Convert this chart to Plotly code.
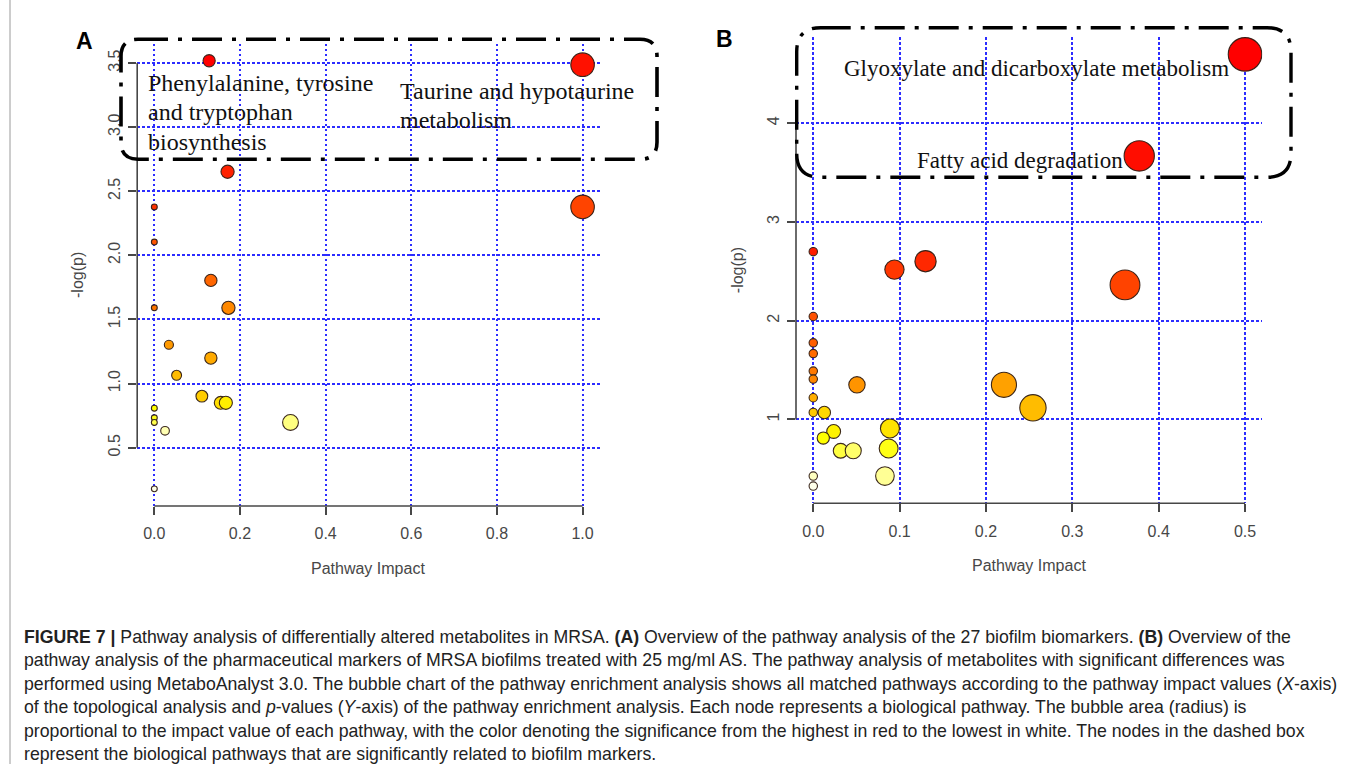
import math
import colorsys
import plotly.graph_objects as go

W, H = 1355, 764

# ---------------- data ----------------
# Panel A: pathway impact (x) and -log(p) (y)
a_impact = [0.128, 1.0, 0.171, 0.0, 1.0, 0.0, 0.132, 0.0, 0.173, 0.034, 0.132,
            0.052, 0.111, 0.155, 0.167, 0.0, 0.0, 0.0, 0.318, 0.025, 0.0]
a_logp = [3.518, 3.487, 2.652, 2.378, 2.378, 2.104, 1.805, 1.591, 1.591, 1.303, 1.199,
          1.065, 0.902, 0.850, 0.850, 0.808, 0.733, 0.697, 0.697, 0.632, 0.179]
a_xticks = [0.0, 0.2, 0.4, 0.6, 0.8, 1.0]
a_yticks = [0.5, 1.0, 1.5, 2.0, 2.5, 3.0, 3.5]
a_labels = [["Phenylalanine, tyrosine", "and tryptophan", "biosynthesis"],
            ["Taurine and hypotaurine", "metabolism"]]

# Panel B
b_impact = [0.5, 0.3775, 0.0, 0.130, 0.094, 0.361, 0.0, 0.0, 0.0, 0.0, 0.0, 0.0506, 0.2208,
            0.0, 0.2544, 0.0, 0.0128, 0.0888, 0.0236, 0.0116, 0.0873, 0.0317, 0.0463, 0.083,
            0.0, 0.0]
b_logp = [4.698, 3.669, 2.700, 2.603, 2.518, 2.363, 2.043, 1.776, 1.668, 1.490, 1.409, 1.351,
          1.351, 1.220, 1.118, 1.071, 1.071, 0.909, 0.879, 0.812, 0.706, 0.683, 0.683, 0.427,
          0.427, 0.326]
b_xticks = [0.0, 0.1, 0.2, 0.3, 0.4, 0.5]
b_yticks = [1, 2, 3, 4]
b_labels = ["Glyoxylate and dicarboxylate metabolism", "Fatty acid degradation"]

caption_lines = [
    "<b>FIGURE 7 |</b> Pathway analysis of differentially altered metabolites in MRSA. <b>(A)</b> Overview of the pathway analysis of the 27 biofilm biomarkers. <b>(B)</b> Overview of the",
    "pathway analysis of the pharmaceutical markers of MRSA biofilms treated with 25 mg/ml AS. The pathway analysis of metabolites with significant differences was",
    "performed using MetaboAnalyst 3.0. The bubble chart of the pathway enrichment analysis shows all matched pathways according to the pathway impact values (<i>X</i>-axis)",
    "of the topological analysis and <i>p</i>-values (<i>Y</i>-axis) of the pathway enrichment analysis. Each node represents a biological pathway. The bubble area (radius) is",
    "proportional to the impact value of each pathway, with the color denoting the significance from the highest in red to the lowest in white. The nodes in the dashed box",
    "represent the biological pathways that are significantly related to biofilm markers.",
]

# ---------------- helpers ----------------
def heat_colors(n):
    j = n // 4
    i = n - j
    cols = []
    for k in range(i):
        h = (1 / 6) * k / (i - 1) if i > 1 else 0
        cols.append(colorsys.hsv_to_rgb(h, 1, 1))
    for k in range(j):
        if j > 1:
            s = (1 - 1 / (2 * j)) + ((1 / (2 * j)) - (1 - 1 / (2 * j))) * k / (j - 1)
        else:
            s = 0.5
        cols.append(colorsys.hsv_to_rgb(1 / 6, s, 1))
    return ["rgb(%d,%d,%d)" % tuple(round(c * 255) for c in col) for col in cols]


def colors_by_rank(y):
    order = sorted(range(len(y)), key=lambda k: -y[k])
    pal = heat_colors(len(y))
    out = [None] * len(y)
    for r, k in enumerate(order):
        out[k] = pal[r]
    return out


def pad_range(v, f=0.04):
    lo, hi = min(v), max(v)
    d = hi - lo
    return [lo - f * d, hi + f * d]


def radii(x):
    sq = [math.sqrt(v) for v in x]
    mn, mx = min(sq), max(sq)
    maxR = (mx - mn) / 40
    minR = (mx - mn) / 160
    return [minR + (maxR - minR) * (s - mn) / (mx - mn) for s in sq]


def px2x(p):
    return p / W


def px2y(p):
    return 1 - p / H


# plot boxes in pixels (left, right, top, bottom)
boxA = (137.2, 599.7, 43.6, 506.0)
boxB = (796.0, 1262.3, 37.1, 503.3)

fig = go.Figure()

SANS = "Liberation Sans, Arial, sans-serif"
TICKFONT = dict(family=SANS, size=16, color="#474747")
AXC = "#474747"
SIZE_SCALE = 1.1


def add_panel(idx, box, xv, yv, xticks, yticks):
    xs = "x" if idx == 1 else "x%d" % idx
    ys = "y" if idx == 1 else "y%d" % idx
    xr = pad_range(xv)
    yr = pad_range(yv)
    ppu = (box[1] - box[0]) / (xr[1] - xr[0])
    sizes = [SIZE_SCALE * 2 * r * ppu for r in radii(xv)]
    fig.add_trace(go.Scatter(
        x=xv, y=yv, mode="markers", xaxis=xs, yaxis=ys, showlegend=False,
        marker=dict(size=sizes, color=colors_by_rank(yv), opacity=1,
                    line=dict(color="rgba(50,30,20,0.95)", width=1.1)),
        hoverinfo="x+y"))
    common = dict(showgrid=True, gridcolor="rgb(45,45,255)", gridwidth=1.7,
                  griddash="2.5px,2.5px", zeroline=False, showline=False,
                  ticks="outside", ticklen=8, tickwidth=1.5, tickcolor=AXC,
                  tickfont=TICKFONT)
    xa = dict(domain=[px2x(box[0]), px2x(box[1])], range=xr, anchor=ys,
              tickvals=xticks, ticktext=["%.1f" % t for t in xticks],
              ticklabelstandoff=5, **common)
    ya = dict(domain=[px2y(box[3]), px2y(box[2])], range=yr, anchor=xs,
              tickvals=yticks, ticktext=[("%.1f" % t) if idx == 1 else str(t) for t in yticks],
              tickangle=-90, ticklabelstandoff=2, **common)
    key = "" if idx == 1 else str(idx)
    fig.update_layout(**{"xaxis" + key: xa, "yaxis" + key: ya})
    # R-style axis lines spanning first..last tick
    fig.add_shape(type="line", xref=xs, yref=ys + " domain", x0=xticks[0], x1=xticks[-1],
                  y0=0, y1=0, line=dict(color=AXC, width=1.6), layer="above")
    fig.add_shape(type="line", xref=xs + " domain", yref=ys, x0=0, x1=0,
                  y0=yticks[0], y1=yticks[-1], line=dict(color=AXC, width=1.6), layer="above")
    # axis titles
    fig.add_annotation(text="Pathway Impact", xref=xs + " domain", yref=ys + " domain",
                       x=0.5, y=0, yshift=-62, showarrow=False, xanchor="center",
                       yanchor="middle", font=dict(family=SANS, size=16, color=AXC))
    fig.add_annotation(text="-log(p)", xref=xs + " domain", yref=ys + " domain",
                       x=0, y=0.5, xshift=-59, showarrow=False, textangle=-90,
                       xanchor="center", yanchor="middle",
                       font=dict(family=SANS, size=16, color=AXC))


add_panel(1, boxA, a_impact, a_logp, a_xticks, a_yticks)
add_panel(2, boxB, b_impact, b_logp, b_xticks, b_yticks)


def rounded_box(l, r, t, b, rad):
    def P(x, y):
        return "%.5f,%.5f" % (px2x(x), px2y(y))
    return ("M " + P(l + rad, t) + " L " + P(r - rad, t) + " Q " + P(r, t) + " " + P(r, t + rad) +
            " L " + P(r, b - rad) + " Q " + P(r, b) + " " + P(r - rad, b) +
            " L " + P(l + rad, b) + " Q " + P(l, b) + " " + P(l, b - rad) +
            " L " + P(l, t + rad) + " Q " + P(l, t) + " " + P(l + rad, t) + " Z")


DASH = "30px,10px,4px,10px"
fig.add_shape(type="path", xref="paper", yref="paper", path=rounded_box(121, 657, 39.3, 159.3, 17),
              line=dict(color="black", width=3.6, dash=DASH), layer="above")
fig.add_shape(type="path", xref="paper", yref="paper", path=rounded_box(796.7, 1291, 27.7, 177.3, 24),
              line=dict(color="black", width=3.4, dash=DASH), layer="above")

# thin frame line at the left edge of the figure page
fig.add_shape(type="line", xref="paper", yref="paper", x0=px2x(10), x1=px2x(10), y0=0, y1=1,
              line=dict(color="#9a9a9a", width=1), layer="above")

SERIF = "Liberation Serif, Times New Roman, serif"
# Panel A labels
for txt, yy in zip(a_labels[0], [82.7, 112.2, 141.7]):
    fig.add_annotation(text=txt, xref="paper", yref="paper", x=px2x(145.7), y=px2y(yy),
                       showarrow=False, xanchor="left", yanchor="middle",
                       font=dict(family=SERIF, size=24, color="#111"))
for txt, yy in zip(a_labels[1], [91, 120.5]):
    fig.add_annotation(text=txt, xref="paper", yref="paper", x=px2x(398.3), y=px2y(yy),
                       showarrow=False, xanchor="left", yanchor="middle",
                       font=dict(family=SERIF, size=24, color="#111"))
# Panel B labels
fig.add_annotation(text=b_labels[0], xref="paper", yref="paper", x=px2x(841.7), y=px2y(68.3),
                   showarrow=False, xanchor="left", yanchor="middle",
                   font=dict(family=SERIF, size=23, color="#111"))
fig.add_annotation(text=b_labels[1], xref="paper", yref="paper", x=px2x(915), y=px2y(160),
                   showarrow=False, xanchor="left", yanchor="middle",
                   font=dict(family=SERIF, size=23, color="#111"))

# panel letters
for letter, xx, yy in [("A", 84.5, 40.7), ("B", 724.3, 38.7)]:
    fig.add_annotation(text="<b>%s</b>" % letter, xref="paper", yref="paper", x=px2x(xx), y=px2y(yy),
                       showarrow=False, xanchor="center", yanchor="middle",
                       font=dict(family=SANS, size=23, color="black"))

# caption
for k, line in enumerate(caption_lines):
    fig.add_annotation(text=line, xref="paper", yref="paper", x=px2x(22), y=px2y(637 + 23.4 * k),
                       showarrow=False, xanchor="left", yanchor="middle",
                       font=dict(family=SANS, size=17.7, color="#222"))

fig.update_layout(width=W, height=H, margin=dict(l=0, r=0, t=0, b=0),
                  paper_bgcolor="white", plot_bgcolor="white", showlegend=False)

fig.write_html("out.html")
